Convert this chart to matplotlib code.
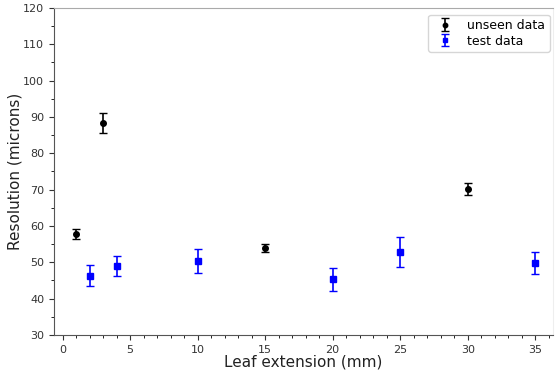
import matplotlib.pyplot as plt
from matplotlib.ticker import MultipleLocator

# unseen data
unseen_x = [1, 3, 15, 30]
unseen_y = [57.8, 88.4, 53.8, 70.2]
unseen_err = [1.3, 2.8, 1.1, 1.6]

# test data
test_x = [2, 4, 10, 20, 25, 35]
test_y = [46.3, 49.0, 50.3, 45.3, 52.8, 49.8]
test_err = [2.9, 2.8, 3.3, 3.1, 4.1, 3.0]

fig = plt.figure(figsize=(5.55, 3.75), dpi=100)
ax = fig.add_axes([0.097, 0.107, 0.899, 0.872])

ax.errorbar(unseen_x, unseen_y, yerr=unseen_err, fmt='o', color='black',
            markersize=4, capsize=3, elinewidth=1.2, label='unseen data')
ax.errorbar(test_x, test_y, yerr=test_err, fmt='s', color='blue',
            markersize=4, capsize=3, elinewidth=1.2, label='test data')

ax.set_xlim(-0.65, 36.3)
ax.set_ylim(30, 120)
ax.xaxis.set_major_locator(MultipleLocator(5))
ax.xaxis.set_minor_locator(MultipleLocator(1))
ax.yaxis.set_major_locator(MultipleLocator(10))
ax.yaxis.set_minor_locator(MultipleLocator(5))
ax.tick_params(labelsize=8, colors='#333333')

ax.spines['left'].set_color('#555555')
ax.spines['bottom'].set_color('#555555')
ax.spines['top'].set_color('#aaaaaa')
ax.spines['right'].set_color('#eeeeee')

ax.set_xlabel('Leaf extension (mm)', fontsize=11, color='#222222')
ax.set_ylabel('Resolution (microns)', fontsize=11, color='#222222')
ax.xaxis.set_label_coords(0.5, -0.061)
ax.yaxis.set_label_coords(-0.062, 0.5)
ax.legend(loc='upper right', fontsize=9, markerscale=0.8, labelspacing=0.2,
          borderpad=0.35, bbox_to_anchor=(0.994, 0.979), borderaxespad=0)

fig.savefig('out.png', dpi=100)
